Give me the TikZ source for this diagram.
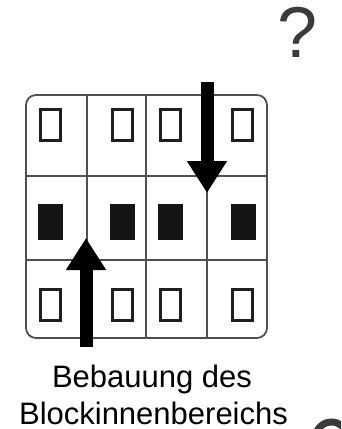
\documentclass[tikz,border=0pt]{standalone}
\usepackage{fontspec}
\setmainfont{Liberation Sans}
\usetikzlibrary{arrows.meta}
\definecolor{framegray}{HTML}{505050}
\definecolor{qgray}{HTML}{3A3A3A}
\tikzset{
  frame/.style={draw=framegray, line width=1.8pt, rounded corners=10pt},
  gridline/.style={draw=framegray, line width=1.6pt},
  win/.style={draw=black!88, line width=3pt, minimum width=20pt, minimum height=31pt, inner sep=0pt},
  winfill/.style={fill=black!92, minimum width=25pt, minimum height=36pt, inner sep=0pt},
  bigarrow/.style={draw=black, line width=13pt, -{Triangle[length=32pt,width=38pt]}},
  lab/.style={font=\fontsize{31}{36}\selectfont, inner sep=0pt, anchor=base},
  qmark/.style={font=\fontsize{72}{72}\selectfont, text=qgray, inner sep=0pt, anchor=base},
  qarc/.style={draw=qgray, line width=7pt}
}
\begin{document}
\begin{tikzpicture}[x=1pt,y=-1pt]
\useasboundingbox (0,0) rectangle (341,429);
\clip (0,0) rectangle (341,429);
% grid lines
\coordinate (h1a) at (26,176); \coordinate (h1b) at (267,176);
\coordinate (h2a) at (26,260); \coordinate (h2b) at (267,260);
\coordinate (v1a) at (87,95); \coordinate (v1b) at (87,338);
\coordinate (v2a) at (146,95); \coordinate (v2b) at (146,338);
\coordinate (v3a) at (207,95); \coordinate (v3b) at (207,338);
\draw[gridline] (h1a) -- (h1b);
\draw[gridline] (h2a) -- (h2b);
\draw[gridline] (v1a) -- (v1b);
\draw[gridline] (v2a) -- (v2b);
\draw[gridline] (v3a) -- (v3b);
\draw[frame] (26,95) rectangle (267,338);
% windows
\node[win] (t1) at (50.5,125) {};
\node[win] (t2) at (122.5,125) {};
\node[win] (t3) at (170.5,125) {};
\node[win] (t4) at (242,125) {};
\node[winfill] (m1) at (50.5,222) {};
\node[winfill] (m2) at (122.5,222) {};
\node[winfill] (m3) at (170.5,222) {};
\node[winfill] (m4) at (243,222) {};
\node[win] (b1) at (50.5,305) {};
\node[win] (b2) at (122,305) {};
\node[win] (b3) at (170.5,305) {};
\node[win] (b4) at (242.5,305) {};
% arrows
\coordinate (d1) at (207,82);
\coordinate (d2) at (207,193);
\draw[bigarrow] (d1) -- (d2);
\coordinate (u1) at (86,347);
\coordinate (u2) at (86,238);
\draw[bigarrow] (u1) -- (u2);
% labels
\node[lab] (lab1) at (152,387) {Bebauung des};
\node[lab] (lab2) at (153.5,424) {Blockinnenbereichs};
\node[qmark] (q1) at (297.5,57) {?};
% partial mark cut by the lower edge
\coordinate (qa) at (315.5,438);
\draw[qarc] (qa) arc[start angle=180, end angle=350, radius=16];
\end{tikzpicture}
\end{document}
